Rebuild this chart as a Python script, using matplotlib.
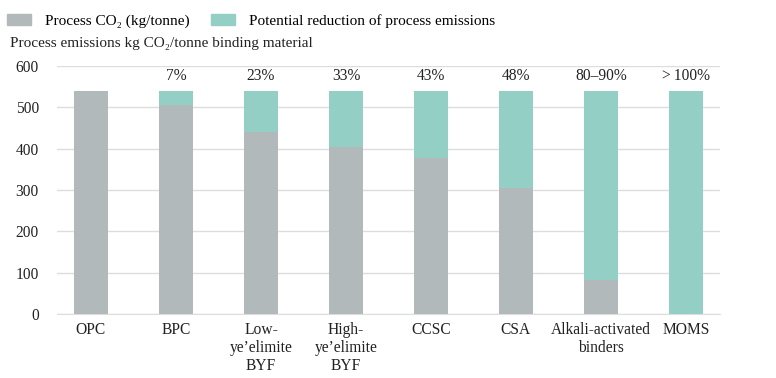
import matplotlib.pyplot as plt
from matplotlib.patches import Patch

categories = ["OPC", "BPC", "Low-\nye’elimite\nBYF", "High-\nye’elimite\nBYF",
              "CCSC", "CSA", "Alkali-activated\nbinders", "MOMS"]
process_co2 = [540, 505, 440, 405, 377, 305, 82, 0]
reduction = [0, 35, 100, 135, 163, 235, 458, 540]
pct_labels = ["", "7%", "23%", "33%", "43%", "48%", "80–90%", ">\u2009100%"]

grey = "#b2b9ba"
teal = "#93cfc4"

plt.rcParams["font.family"] = ["Liberation Serif", "DejaVu Serif"]
plt.rcParams["font.size"] = 11.2

fig = plt.figure(figsize=(7.76, 3.78), dpi=100)
ax = fig.add_axes([57/776, 1-314/378, (720-57)/776, (314-66)/378])

x = list(range(len(categories)))
ax.bar(x, process_co2, width=0.4, color=grey, zorder=3)
ax.bar(x, reduction, width=0.4, bottom=process_co2, color=teal, zorder=3)

for i, lab in enumerate(pct_labels):
    ax.text(i, 575, lab, ha="center", va="center", color="#222222")

ax.set_xlim(-0.4, 7.4)
ax.set_ylim(0, 600)
ax.set_yticks(range(0, 601, 100))
ax.set_xticks(x)
ax.set_xticklabels(categories, linespacing=1.15)
ax.yaxis.grid(True, color="#dddddd", linewidth=1, zorder=0)
for s in ["top", "right", "left"]:
    ax.spines[s].set_visible(False)
ax.spines["bottom"].set_color("#dddddd")
ax.tick_params(axis="both", length=0, colors="#222222")
ax.tick_params(axis="y", pad=13)
ax.tick_params(axis="x", pad=6)

handles = [Patch(color=grey), Patch(color=teal)]
fig.legend(handles, ["Process CO₂ (kg/tonne)", "Potential reduction of process emissions"],
           loc="upper left", bbox_to_anchor=(2.4/776, 0.975), ncol=2, frameon=False,
           borderaxespad=0, borderpad=0.3, fontsize=11,
           handlelength=1.57, handleheight=0.65, handletextpad=0.92, columnspacing=1.37)
fig.text(10/776, 1-44/378, "Process emissions kg CO₂/tonne binding material",
         va="center", ha="left", color="#222222", fontsize=11)

fig.savefig("out.png", dpi=100)
